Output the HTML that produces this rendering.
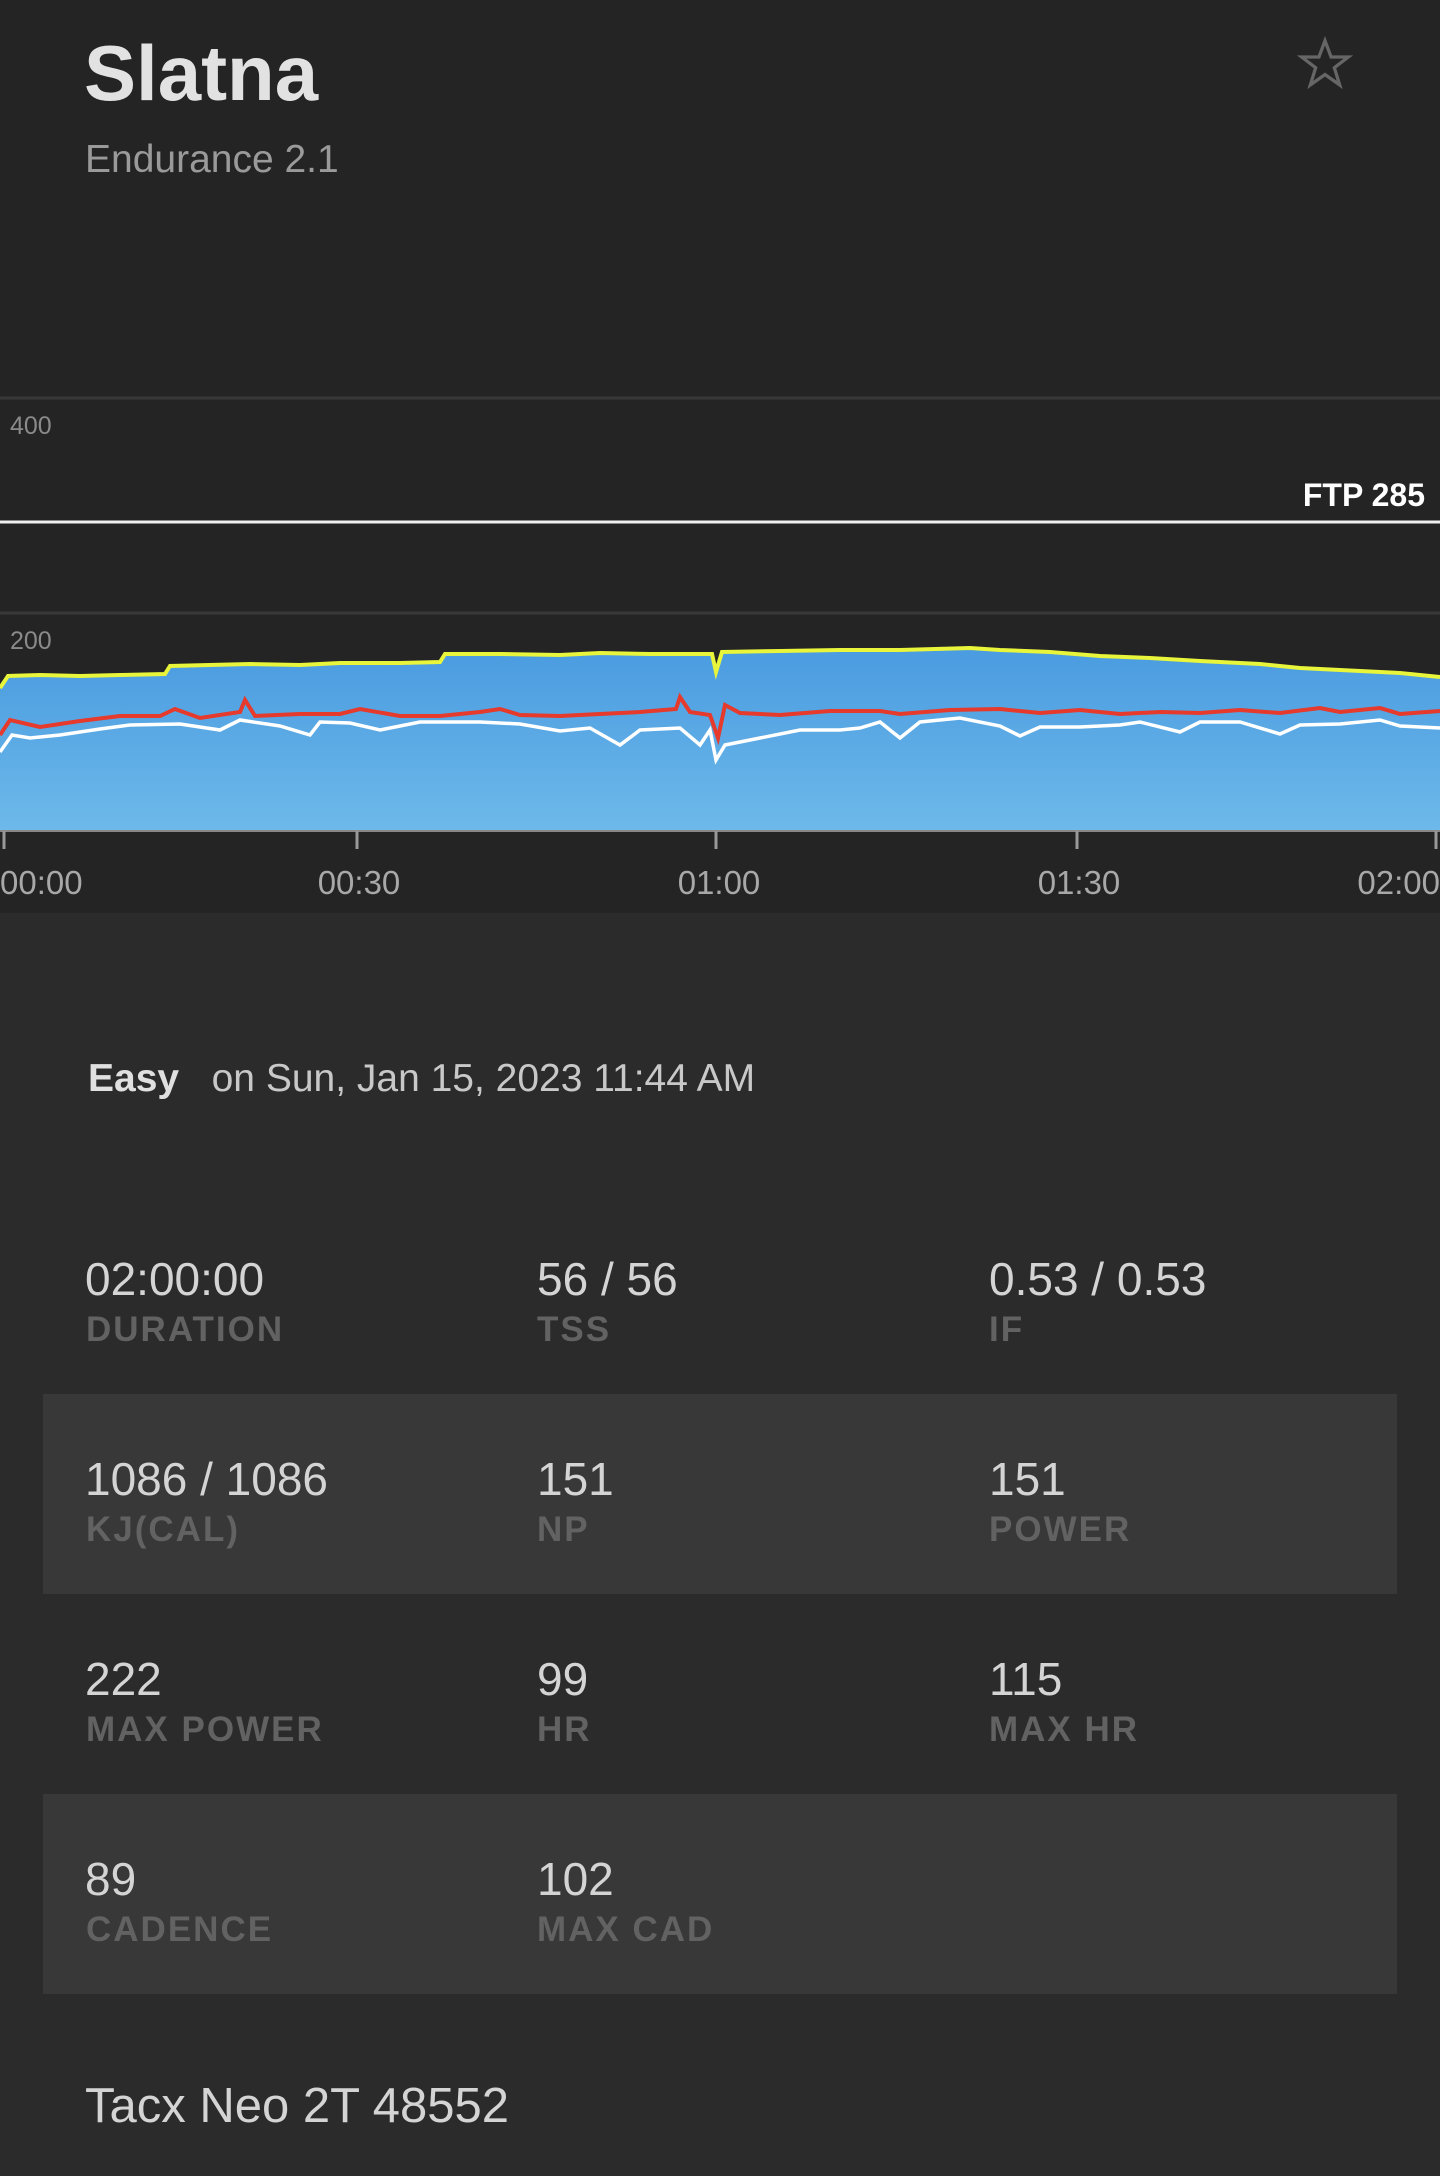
<!DOCTYPE html>
<html><head><meta charset="utf-8"><style>
*{margin:0;padding:0;box-sizing:border-box}
body{width:1440px;height:2176px;background:#2b2b2b;font-family:"Liberation Sans",sans-serif;position:relative;overflow:hidden}
.top{position:absolute;left:0;top:0;width:1440px;height:913px;background:#242424}
.t{position:absolute;white-space:nowrap}
.band{position:absolute;left:43px;width:1354px;height:200px;background:#383838}
.v{font-size:46px;color:#d4d4d4}
.l{font-size:35px;font-weight:bold;color:#626262;letter-spacing:2px}
</style></head><body>
<div class="top"></div>
<div class="t" style="left:84px;top:28px;font-size:78px;font-weight:bold;color:#e2e2e2">Slatna</div>
<div class="t" style="left:85px;top:138px;font-size:39px;color:#9a9a9a">Endurance 2.1</div>
<svg style="position:absolute;left:1297px;top:36px" width="56" height="56" viewBox="0 0 24 24"><polygon points="12,2 14.6,9 22,9 16,13.6 18.3,21 12,16.5 5.7,21 8,13.6 2,9 9.4,9" fill="none" stroke="#666" stroke-width="1.4"/></svg>
<svg style="position:absolute;left:0;top:0" width="1440" height="913">
<defs><linearGradient id="g" x1="0" y1="0" x2="0" y2="1"><stop offset="0" stop-color="#4a9be0"/><stop offset="1" stop-color="#6db9ea"/></linearGradient></defs>
<line x1="0" y1="398" x2="1440" y2="398" stroke="#383838" stroke-width="3"/>
<line x1="0" y1="613" x2="1440" y2="613" stroke="#383838" stroke-width="3"/>
<text x="10" y="434" font-size="25" fill="#8a8a8a" font-family="Liberation Sans">400</text>
<text x="10" y="649" font-size="25" fill="#8a8a8a" font-family="Liberation Sans">200</text>
<line x1="0" y1="522" x2="1440" y2="522" stroke="#f0f0f0" stroke-width="3"/>
<text x="1425" y="506" font-size="32" font-weight="bold" fill="#ffffff" text-anchor="end" font-family="Liberation Sans">FTP 285</text>
<path fill="url(#g)" d="M0,831 L0,688 8,676 40,675 80,676 120,675 165,674 170,666 250,664 300,665 340,663 400,663 440,662 445,654 500,654 560,655 600,653 650,654 700,654 712,654 716,672 722,652 780,651 840,650 900,650 970,648 1000,650 1050,652 1100,656 1150,658 1200,661 1260,664 1300,668 1360,671 1400,673 1440,677 L1440,831 Z"/>
<polyline fill="none" stroke="#e8f53a" stroke-width="4" points="0,688 8,676 40,675 80,676 120,675 165,674 170,666 250,664 300,665 340,663 400,663 440,662 445,654 500,654 560,655 600,653 650,654 700,654 712,654 716,672 722,652 780,651 840,650 900,650 970,648 1000,650 1050,652 1100,656 1150,658 1200,661 1260,664 1300,668 1360,671 1400,673 1440,677"/>
<polyline fill="none" stroke="#ffffff" stroke-width="3.5" points="0,752 12,735 30,738 60,735 100,729 130,725 180,724 220,730 240,720 280,726 310,735 320,722 350,723 380,730 420,722 480,722 520,724 560,731 590,728 620,745 640,730 680,728 700,745 710,730 716,760 725,745 760,738 800,730 840,730 860,728 880,722 900,738 920,722 960,718 1000,726 1020,736 1040,727 1080,727 1120,725 1140,722 1180,732 1200,722 1240,722 1280,734 1300,725 1340,724 1380,720 1400,726 1440,728"/>
<polyline fill="none" stroke="#e53a2c" stroke-width="4" points="0,735 10,720 40,727 80,721 120,716 160,716 175,709 200,718 240,712 245,700 255,716 300,714 340,714 360,709 400,716 440,716 480,712 500,709 520,715 560,716 600,714 640,712 676,709 680,697 690,712 710,715 718,738 725,705 740,713 780,715 830,711 880,711 900,714 950,710 1000,709 1040,713 1080,710 1120,714 1160,712 1200,713 1240,710 1280,713 1320,708 1340,712 1380,708 1400,714 1440,711"/>
<line x1="0" y1="831" x2="1440" y2="831" stroke="#888" stroke-width="2"/>
<g stroke="#999" stroke-width="3"><line x1="4" y1="831" x2="4" y2="849"/><line x1="357" y1="831" x2="357" y2="849"/><line x1="716" y1="831" x2="716" y2="849"/><line x1="1077" y1="831" x2="1077" y2="849"/><line x1="1436" y1="831" x2="1436" y2="849"/></g>
<g font-size="33" fill="#a8a8a8" font-family="Liberation Sans"><text x="0" y="894">00:00</text><text x="359" y="894" text-anchor="middle">00:30</text><text x="719" y="894" text-anchor="middle">01:00</text><text x="1079" y="894" text-anchor="middle">01:30</text><text x="1440" y="894" text-anchor="end">02:00</text></g>
</svg>
<div class="t" style="left:88px;top:1057px;font-size:39px;color:#c8c8c8"><b style="color:#e0e0e0">Easy</b>&nbsp;&nbsp; on Sun, Jan 15, 2023 11:44 AM</div>
<div class="band" style="top:1394px"></div>
<div class="band" style="top:1794px"></div>
<div class="t v" style="left:85px;top:1252px">02:00:00</div><div class="t l" style="left:86px;top:1310px">DURATION</div>
<div class="t v" style="left:537px;top:1252px">56 / 56</div><div class="t l" style="left:537px;top:1310px">TSS</div>
<div class="t v" style="left:989px;top:1252px">0.53 / 0.53</div><div class="t l" style="left:989px;top:1310px">IF</div>
<div class="t v" style="left:85px;top:1452px">1086 / 1086</div><div class="t l" style="left:86px;top:1510px">KJ(CAL)</div>
<div class="t v" style="left:537px;top:1452px">151</div><div class="t l" style="left:537px;top:1510px">NP</div>
<div class="t v" style="left:989px;top:1452px">151</div><div class="t l" style="left:989px;top:1510px">POWER</div>
<div class="t v" style="left:85px;top:1652px">222</div><div class="t l" style="left:86px;top:1710px">MAX POWER</div>
<div class="t v" style="left:537px;top:1652px">99</div><div class="t l" style="left:537px;top:1710px">HR</div>
<div class="t v" style="left:989px;top:1652px">115</div><div class="t l" style="left:989px;top:1710px">MAX HR</div>
<div class="t v" style="left:85px;top:1852px">89</div><div class="t l" style="left:86px;top:1910px">CADENCE</div>
<div class="t v" style="left:537px;top:1852px">102</div><div class="t l" style="left:537px;top:1910px">MAX CAD</div>
<div class="t" style="left:85px;top:2078px;font-size:49px;color:#d4d4d4">Tacx Neo 2T 48552</div>
</body></html>
